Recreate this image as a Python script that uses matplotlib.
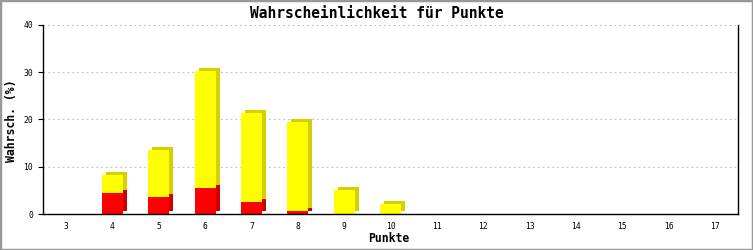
import matplotlib
matplotlib.use("Agg")
import matplotlib.pyplot as plt
from matplotlib.transforms import offset_copy
from matplotlib.patches import Rectangle

categories = [3, 4, 5, 6, 7, 8, 9, 10, 11, 12, 13, 14, 15, 16, 17]
red_values = [0, 4.5, 3.7, 5.6, 2.6, 0.7, 0, 0, 0, 0, 0, 0, 0, 0, 0]
total_values = [0, 8.3, 13.5, 30.3, 21.4, 19.5, 5.1, 2.2, 0, 0, 0, 0, 0, 0, 0]
yellow_values = [t - r for t, r in zip(total_values, red_values)]
y_ticks = [0, 10, 20, 30, 40]
title = "Wahrscheinlichkeit für Punkte"
xlabel = "Punkte"
ylabel = "Wahrsch. (%)"

W, H = 753, 250
fig = plt.figure(figsize=(W / 100, H / 100), dpi=100)
ax = fig.add_axes([43 / W, 36 / H, (738 - 43) / W, (214 - 25) / H])

mono = "DejaVu Sans Mono"
pos = list(range(len(categories)))
bw = 0.45

off = offset_copy(ax.transData, fig=fig, x=4, y=3, units="dots")
ax.bar(pos, total_values, bw, color="#D4D000", linewidth=0, transform=off, zorder=2)
ax.bar(pos, red_values, bw, color="#CC0000", linewidth=0, transform=off, zorder=2.1)
ax.bar(pos, yellow_values, bw, bottom=red_values, color="#FFFF00", linewidth=0, zorder=3)
ax.bar(pos, red_values, bw, color="#FF0000", linewidth=0, zorder=3.1)

ax.set_xlim(-0.5, len(categories) - 0.5)
ax.set_ylim(0, 40)
ax.set_xticks(pos)
ax.set_xticklabels([str(c) for c in categories], fontfamily=mono, fontsize=5.8)
ax.set_yticks(y_ticks)
ax.set_yticklabels([str(v) for v in y_ticks], fontfamily=mono, fontsize=5.8)
ax.tick_params(axis="x", length=0, pad=6)
ax.tick_params(axis="y", length=3.6, width=0.8, pad=3.5, direction="out")

for v in y_ticks[1:]:
    ax.axhline(v, color="#BBBBBB", linewidth=0.8, dashes=(1.44, 2.88), zorder=1)

for s in ["left", "bottom", "right"]:
    ax.spines[s].set_linewidth(1.0)
    ax.spines[s].set_color("black")
ax.spines["top"].set_visible(False)
for s in ax.spines.values():
    s.set_zorder(5)

fig.text(0.5, 1 - 14 / H, title, ha="center", va="center", fontfamily=mono,
         fontweight="bold", fontsize=10.5)
fig.text(389 / W, 1 - 239 / H, xlabel, ha="center", va="center", fontfamily=mono,
         fontweight="bold", fontsize=8.3)
fig.text(12 / W, 1 - 121 / H, ylabel, ha="center", va="center", rotation=90,
         fontfamily=mono, fontweight="bold", fontsize=8.3)

fig.patches.append(Rectangle((0, 0), 1, 1, transform=fig.transFigure, fill=False,
                             edgecolor="#999999", linewidth=2.5))

fig.savefig("out.png", dpi=100)
